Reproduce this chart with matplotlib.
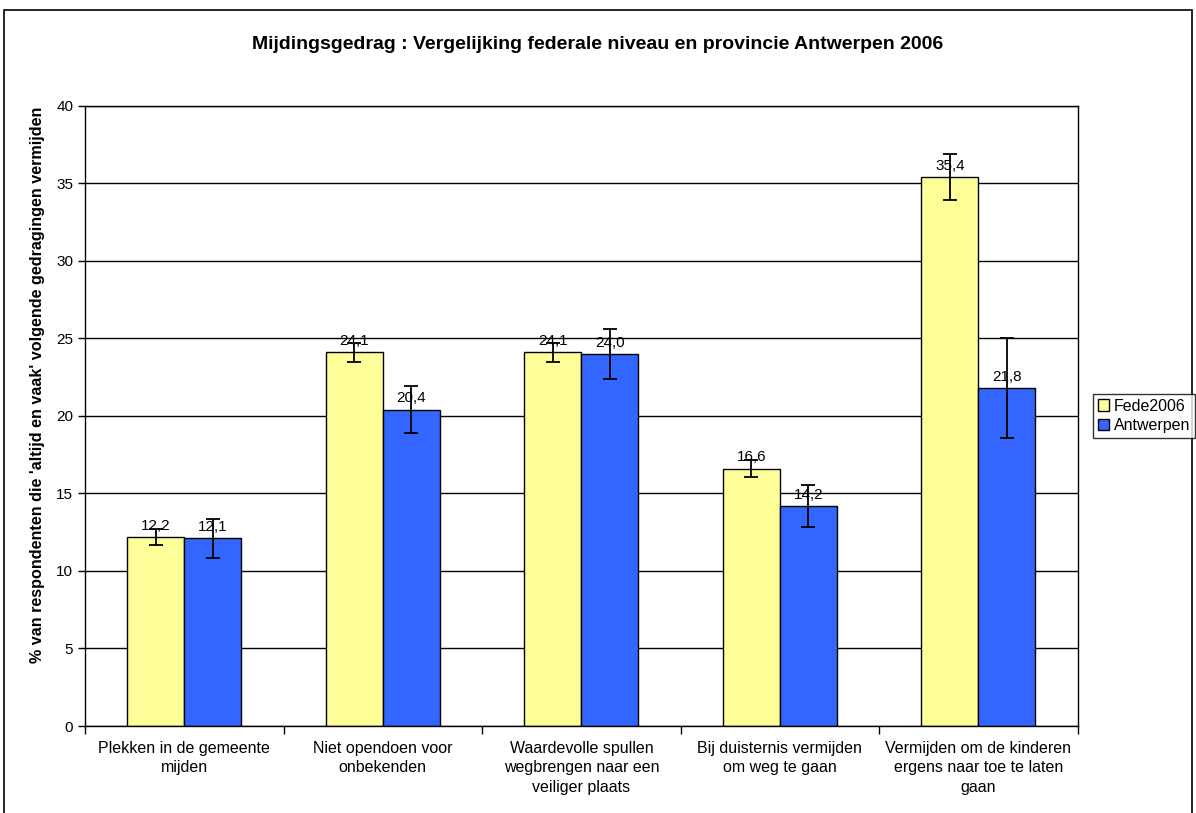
import numpy as np
import matplotlib.pyplot as plt
from matplotlib.patches import Rectangle
from matplotlib.ticker import MultipleLocator

plt.rcParams['font.family'] = ['Liberation Sans', 'DejaVu Sans']

# --------------------------------------------------
# Data
# --------------------------------------------------

categories = [
    "Plekken in de gemeente\nmijden",
    "Niet opendoen voor\nonbekenden",
    "Waardevolle spullen\nwegbrengen naar een\nveiliger plaats",
    "Bij duisternis vermijden\nom weg te gaan",
    "Vermijden om de kinderen\nergens naar toe te laten\ngaan",
]

fede = [12.2, 24.1, 24.1, 16.6, 35.4]
fede_err = [0.5, 0.6, 0.6, 0.55, 1.5]

antwerpen = [12.1, 20.4, 24.0, 14.2, 21.8]
antwerpen_err = [1.25, 1.5, 1.6, 1.35, 3.25]

series_names = ["Fede2006", "Antwerpen"]

# --------------------------------------------------
# Figure
# --------------------------------------------------

fig = plt.figure(figsize=(11.96, 8.13), dpi=100)
ax = fig.add_axes([0.0711, 0.107, 0.830, 0.763])

x = np.arange(len(categories))
w = 0.287

b1 = ax.bar(x - w / 2, fede, w, color="#FFFF99", edgecolor="black",
            linewidth=1, label=series_names[0], zorder=2)
b2 = ax.bar(x + w / 2, antwerpen, w, color="#3366FF", edgecolor="black",
            linewidth=1, label=series_names[1], zorder=2)

ax.errorbar(x - w / 2, fede, yerr=fede_err, fmt="none", ecolor="black",
            elinewidth=1.3, capsize=5, capthick=1.3, zorder=3)
ax.errorbar(x + w / 2, antwerpen, yerr=antwerpen_err, fmt="none",
            ecolor="black", elinewidth=1.3, capsize=5, capthick=1.3, zorder=3)

for bars, vals in [(b1, fede), (b2, antwerpen)]:
    for rect, v in zip(bars, vals):
        ax.annotate(
            f"{v:.1f}".replace(".", ","),
            (rect.get_x() + rect.get_width() / 2, v),
            xytext=(0, 3), textcoords="offset points",
            ha="center", va="bottom", fontsize=11, zorder=4
        )

ax.set_xlim(-0.5, len(categories) - 0.5)
ax.set_ylim(0, 40)
ax.yaxis.set_major_locator(MultipleLocator(5))
ax.grid(axis="y", color="black", linewidth=1, zorder=0)
ax.set_axisbelow(True)

ax.set_xticks(x)
ax.set_xticklabels(categories, fontsize=11.5, linespacing=1.35)
ax.set_xticks(np.arange(len(categories) + 1) - 0.5, minor=True)
ax.tick_params(axis="x", which="major", length=0, pad=11)
ax.tick_params(axis="x", which="minor", length=6, width=1, direction="out")
ax.tick_params(axis="y", labelsize=11, length=5, width=1, direction="out")

for s in ax.spines.values():
    s.set_linewidth(1)
    s.set_color("black")

ax.set_ylabel("% van respondenten die 'altijd en vaak' volgende gedragingen vermijden",
              fontsize=11.6, fontweight="bold")
ax.yaxis.set_label_coords(-0.040, 0.55)

fig.text(0.5, 0.945,
         "Mijdingsgedrag : Vergelijking federale niveau en provincie Antwerpen 2006",
         ha="center", va="center", fontsize=14, fontweight="bold")

leg = fig.legend(
    handles=[b1, b2], labels=series_names,
    loc="center left", bbox_to_anchor=(1093 / 1196, 1 - 416 / 813),
    fontsize=11.5, frameon=True, fancybox=False, edgecolor="black",
    handlelength=0.7, handleheight=0.7, handletextpad=0.3,
    borderpad=0.3, labelspacing=0.3, borderaxespad=0
)
leg.get_frame().set_linewidth(1)

# outer chart border
fig.patches.append(Rectangle((0.003, -0.01), 0.994, 0.998,
                             transform=fig.transFigure, fill=False,
                             edgecolor="black", linewidth=1.2))

fig.savefig("out.png", dpi=100)
